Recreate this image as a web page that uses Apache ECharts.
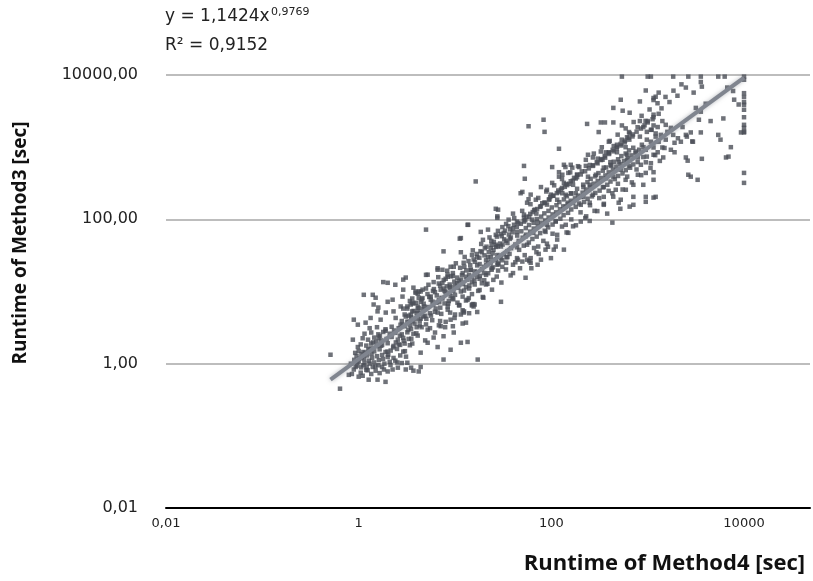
<!DOCTYPE html>
<html>
<head>
<meta charset="utf-8">
<script src="https://cdn.jsdelivr.net/npm/echarts@6/dist/echarts.min.js"></script>
<style>
html, body { margin: 0; padding: 0; background: #fff; }
#chart { width: 813px; height: 581px; }
</style>
</head>
<body>
<div id="chart"></div>
<script>
// runtimes, pairs of [Method4 sec, Method3 sec]
var lowCluster = [
  [0.51,1.33],[0.64,0.45],[0.79,0.7],[0.87,2.15],[0.83,1.0],[0.98,1.7],[0.89,4.07],[0.98,3.47],[1.18,3.7],[1.33,4.3],[1.69,4.07],
  [1.0,0.66],[1.27,0.6],[1.57,0.6],[1.9,0.56],[0.89,0.83],[2.25,0.83],[2.55,0.88],[3.08,0.83],[3.5,0.88],[4.2,0.78],
  [0.85,0.72],[0.93,0.9],[1.05,0.75],[1.12,0.95],[1.2,0.82],[1.35,0.72],[1.4,0.9],[1.5,0.8],[1.65,0.74],[1.75,0.9],[2.0,0.78],[1.1,0.68],[0.97,1.05],[1.3,1.0],[1.6,0.95],
  [1.0,1.08],[1.15,1.02],[1.28,1.1],[1.45,1.04],[1.62,1.12],[1.85,1.0],[2.1,1.06],[2.4,1.1],[2.8,1.02],
  [0.95,1.28],[1.08,1.22],[1.22,1.3],[1.38,1.2],[1.55,1.27],[1.75,1.32],[2.0,1.24],[2.3,1.2],[2.7,1.3],[3.1,1.25],
  [1.0,1.5],[1.12,1.45],[1.3,1.55],[1.45,1.48],[1.65,1.58],[1.9,1.45],[2.15,1.52],[2.5,1.6],[2.9,1.47],
  [1.05,1.85],[1.2,1.78],[1.35,1.9],[1.55,1.75],[1.75,1.82],[2.0,1.92],[2.3,1.76],[2.6,1.85],[3.0,1.9],[3.4,1.8],
  [1.1,2.25],[1.25,2.15],[1.45,2.3],[1.7,2.1],[1.95,2.2],[2.2,2.35],[2.55,2.15],[2.9,2.28],[3.3,2.2],
  [1.15,2.6],[1.35,2.7],[1.6,2.55],[1.8,2.75],[2.1,2.6],[2.4,2.68],[2.8,2.55],[3.2,2.72],[3.7,2.6],
  [1.3,3.1],[1.55,3.2],[1.9,3.0],[2.2,3.25],[2.6,3.1],[3.0,3.3],[3.5,3.05],[4.0,3.2],
  [1.8,13.5],[2.4,12.4],[2.9,14.6],[2.0,13.2],[1.13,9],[1.4,9],[1.5,8.2],[2.85,8.5],[2.9,10.6],[4.2,10],[3.7,11.3],
  [2.0,7.2],[2.25,7.7],[2.73,6.2],[3.47,6.6],[4.4,7.2],[1.43,6.6],[1.6,6],[1.57,5.3],[1.91,5.1],[2.3,5.3],[2.42,4.3],[3.08,4.5],[3.6,5.3],[4.1,4.5],
  [4.4,1.42],[3.7,0.8],[4.4,0.9],[3.2,1.03],
  [3.2,5.8],[3.5,4.4],[3.7,6.8],[4,5],[4.3,3.9],[4.6,5.8],[4.9,4.6],[3.0,4.8],[3.4,3.4],[3.9,4.2],[4.5,3.2],[2.9,5.8],[3.6,8],[4.1,9.3],[3.3,3.8],[2.8,3.9],[3.8,3.6],[4.4,4.2],
  [3.08,15.6],[3.9,10],[4.2,8.2],[3.6,7],[3.2,6.2],[3.47,4.77],[3.2,3.8],[2.85,3.47],
  [1.02,1.18],[1.17,1.42],[1.34,1.63],[1.52,2.02],[1.66,2.42],[1.9,2.86],[2.03,1.33],[2.28,1.68],[2.43,1.97],[2.68,2.44],[2.93,2.08],[1.07,1.36],[1.26,1.58],
  [1.41,1.97],[1.61,2.27],[1.79,1.16],[1.99,1.47],[1.14,1.16],[1.36,1.37],[1.71,1.77],[2.33,2.88],[2.72,3.46],[3.28,2.93],[3.62,3.86],[1.21,0.89],[1.49,0.91],
  [1.83,0.83],[2.14,0.96],[2.52,1.04],[0.9,1.13],[0.92,1.41],[0.96,0.94],[1.06,0.89],[1.24,0.81],[2.69,1.82],[3.02,1.49],[3.52,2.22],[3.97,2.63],[4.3,3.38]
];
var midBand = [
  [5.2,17.1],[6.6,20],[8.4,16],[9.7,22],[12.3,25],[14.6,20],[11.5,14.6],[9,11.6],[7.1,10.6],[4.4,10],[5.6,7.7],[4.1,6.2],[4.7,4.5],[6.6,5.1],[8.4,6.2],[10.6,7],[13.5,7.7],[15.6,6.2],[12.3,5.1],[9,4.07],[7.1,3.3],[5.2,2.96],[6,2.3],[7.6,2.4],[9.7,2.7],[11.5,1.95],[13.5,2.0],[9,1.56],[6.6,1.7],[5.2,1.95],[7.6,1.14],[17.2,1.14],
  [5,72],[13.7,84],[18.5,67],[19.5,52],[11.2,54],[7.6,36],[11.5,35],[15,32],[17,30],[23.5,40],[26.5,44.5],[27.5,32],[5,17],[6.6,21],[7.4,20],[9,22],[4.6,10.6],
  [21,27],[23.5,26],[26.5,28],[28,25],
  [12.5,22],[14.5,20],[17,23],[20,18],[24,21],[28,19.5],[31,22],
  [9.5,16.5],[11,14],[13,16],[15,13.5],[18,15],[21,12.5],[25,14.5],
  [7.6,11],[8.8,9.5],[10,12],[11.5,10],[13,11.5],[15,9.2],[18,10.5],
  [5.6,8.5],[6.4,7],[7.4,8],[8.5,6.8],[9.6,7.8],[11,6.5],[13,7.5],[16,6.6],
  [4.1,5.4],[4.8,6.2],[5.5,5],[6.3,5.8],[7.2,4.9],[8.4,5.6],[10,4.8],[12,5.5],[14,5],
  [5,3.5],[5.8,4],[6.8,3.4],[8,3.8],[9.5,3.3],[12,3.6],
  [15,6.6],[19.7,8.2],[17,5.2],[11.5,4.8],[13,3.7],[30,7.2],[15,6.4],[21,17],[24,20],
  [16.4,335],[13.5,84],[11.5,55],[28,136],[27.5,110],
  [5.4,8.4],[6.2,9.8],[7,12],[5,11],[6,13.5],[8,15],[9.5,18],[10.5,13],[7.8,10.2],[12,18],[14,17],[16,19],[18,24],[20,22],[22,30],
  [10,9],[12,8.5],[14,11],[16,12.5],[19,13],[17,16],[8.8,12.5],[6.8,7.6],[9,8.6],
  [3.31,4.62],[3.72,5.38],[4.18,5.93],[4.73,6.77],[5.21,6.08],[5.83,7.24],[6.47,8.83],[7.23,8.17],[7.96,9.84],[8.84,11.1],[9.62,10.2],[5.04,4.18],[5.63,4.63],
  [6.18,5.24],[7.03,5.97],[7.78,6.84],[8.62,7.37],[9.41,8.05],[4.52,7.76],[5.18,9.23],[6.04,10.8],[6.78,12.9],[7.63,14.4],[8.37,17.1],[3.92,6.98],[4.38,5.03],
  [5.94,6.58],[6.87,7.12],[9.83,13.7],[8.21,11.8],
  [10.5,15.6],[11.8,16.9],[13.1,19.6],[14.4,23.2],[16.1,25.8],[17.9,29.3],[20.2,31.7],[22.4,35.2],[25.1,37.8],[27.8,42.3],[31.2,44.7],[33.8,50.4],[37.1,53.6],
  [10.8,11.3],[12.1,12.7],[13.4,14.6],[15.1,15.7],[16.9,18.6],[19.1,20.4],[21.1,23.1],[23.4,24.7],[26.1,27.2],[28.8,31.1],[32.2,32.8],[34.9,36.2],[38.2,39.8],
  [12.4,10.3],[14.1,12.1],[15.9,14.1],[18.1,16.4],[20.1,14.3],[22.1,17.9],[24.8,21.6],[28.2,23.9],[30.9,27.1],[34.2,29.8],[36.8,33.2],
  [15.6,27.8],[18.4,36.2],[21.2,41.8],[23.8,50.3],[27.2,57.6],[29.8,62.4],[33.1,69.7],[35.8,80.4]
];
var upperBand = [
  [40,18],[54,15.5],[62,21],[72,23.5],[70,35],[90,46],[106,38],[56,27.6],[45,27.6],
  [40,120],[44,93],[52,116],[70,120],
  [58,1950],[83,2400],[85,1630],[120,950],[52,550],[53,365],[102,530],[120,450],[135,570],[165,520],
  [26.5,140],[27.5,105],[31,78],[40,75],[52,105],[58,190],[48,230],
  [430,90],[140,530],[185,415],[120,390],
  [50,240],[61,220],[78,280],[90,257],[102,320],[99,220],[130,230],[159,230],[185,265],
  [56,170],[69,187],[90,160],[115,187],[141,150],[168,170],[202,205],
  [36,99],[41,84],[52,93],[63,99],[72,90],[90,84],[111,93],[141,84],[168,80],[202,93],
  [22,72],[26.5,61],[32,65],[38,56],[44,67],[54,58],[65,65],[87,67],[115,61],[150,65],
  [24,44.5],[30,42],[35,47],[44,41],[56,44.5],[73,42],[87,38],[111,42],[135,38],
  [19,35],[23.5,30],[30,29],[35,30],[44,29],[61,29],[78,27.6],[99,29],
  [22,25],[27.5,23.5],[34,25],[40,23.5],[50,26],[61,25],
  [230,110],[300,130],[380,120],[520,140],[650,150],[250,95],
  [235,2100],[326,2200],[360,2200],[440,2200],[540,2000],[440,3500],[550,3200],[650,3000],[310,1620],[640,1620],[830,2300],[1000,2300],[1150,2000],[525,4540],[830,4300],[1150,4800],[830,1400],[610,1370],
  [395,1190],[480,1080],[590,1000],[326,870],[395,850],[480,850],[610,785],[750,870],[870,1080],[980,1270],[1210,1550],[1080,1740],
  [240,785],[270,720],[340,670],[410,620],[500,620],[610,670],[790,720],[980,740],[1270,850],
  [159,570],[195,530],[228,550],[270,550],[350,520],[420,550],[525,486],[640,550],[850,570],[1080,600],
  [130,415],[150,440],[185,415],[240,390],[290,415],[367,370],[440,390],[590,353],[790,415],[955,440],[1150,450],
  [135,320],[168,301],[215,280],[250,301],[350,280],[466,257],[593,257],[710,301],[900,301],[1150,353],
  [141,219],[179,230],[215,205],[270,219],[350,205],[430,230],[525,187],[710,205],[955,205],[1210,205],
  [150,170],[202,159],[250,170],[350,159],[500,170],[710,159],[955,175],[1150,200],
  [42.3,44.8],[45.8,50.3],[50.4,55.7],[54.8,61.3],[60.3,67.6],[65.7,74.4],[72.4,79.6],[78.6,88.3],[86.4,96.5],[93.7,106],[103,117],[112,125],[123,138],
  [133,151],[147,163],[159,181],[176,195],[189,213],[44.2,59.6],[48.8,68.3],[54.3,75.6],[58.7,83.4],[65.4,89.6],[70.6,101],[78.4,109],[84.6,121],[93.4,131],
  [101,146],[113,157],[121,173],[135,189],[145,209],[161,227],[46.3,37.8],[51.7,43.2],[58.4,47.7],[63.6,53.4],[70.4,57.6],[76.6,64.4],[85.4,69.6],[92.6,77.4],
  [103,84.6],[111,94.5],[124,102],[134,114],[149,123],[161,137],[179,149],[194,166],[60.4,119],[67.6,136],[76.4,149],[84.7,171],[95.6,189],[105,212],
  [119,238],[129,272],[146,298],[159,337],[179,368],
  [211,234],[229,259],[253,281],[275,312],[303,338],[328,374],[364,406],[394,448],[436,486],[473,537],[522,583],[568,643],[627,697],[680,769],[751,835],
  [816,922],[904,1000],[214,302],[237,328],[256,364],[285,394],[308,437],[342,472],[370,523],[411,567],[445,628],[493,679],[533,752],[591,816],[640,903],
  [708,981],[219,174],[238,193],[264,208],[286,232],[317,250],[343,278],[381,301],[411,334],[456,361],[493,399],[548,432],[592,480],[657,519],[709,576],
  [787,622],[302,597],[327,663],[362,716],[397,805],[443,876],[477,966],[533,1055],[577,1166],[645,1272],[696,1408]
];
// outer parts of the band, above and below the fit
var bandEdges = [
  [3.4,7.4],[3.9,9.6],[4.6,8.1],[5.3,12.4],[5.9,10.2],[6.7,15.8],[7.4,13.1],[8.3,19.4],[9.1,16.2],[10.2,24.6],[11.3,21.3],[12.6,30.1],[13.8,26.4],
  [15.3,37.2],[16.8,33.1],[18.7,45.6],[20.4,39.8],[22.8,56.1],[25.3,48.7],[27.9,69.2],[30.6,58.4],[33.9,86.3],[37.4,72.5],[41.2,104],[45.3,88.6],
  [49.8,131],[55.1,109],[60.7,162],[66.3,134],[73.1,198],[80.4,167],[88.6,243],[97.3,204],[107,296],[118,251],[129,362],[142,307],[157,448],[172,376],
  [189,545],[207,462],[228,668],[251,566],[276,815],[303,693],[334,998],[367,847],[404,1220],[444,1036],[488,1490],[537,1270],[591,1820],[650,1550],
  [715,2230],[786,1890],[865,2720],[950,2310],[1046,3330],[1150,2820],[1265,4060],[1392,3450],[1531,4970],[1684,4220],[1852,6070],[2037,5160],[2241,7420],
  [3.6,1.9],[4.1,2.45],[4.9,2.1],[5.5,3.1],[6.2,2.7],[7.0,3.9],[7.9,3.2],[8.9,5.1],[9.9,4.3],[11.1,6.4],[12.4,5.3],[13.9,8.1],[15.5,6.7],[17.4,10.2],
  [19.4,8.4],[21.7,12.8],[24.2,10.6],[27.1,16.1],[30.3,13.3],[33.8,20.2],[37.8,16.7],[42.3,25.4],[47.3,21.0],[52.9,31.9],[59.1,26.4],[66.1,40.1],
  [73.9,33.2],[82.6,50.3],[92.3,41.7],[103,63.2],[115,52.4],[129,79.4],[144,65.8],[161,99.8],[180,82.7],[201,125],[225,104],[252,157],[281,131],
  [314,197],[351,164],[393,248],[439,206],[491,311],[549,259],[613,391],[685,325],[766,491],[856,409],[957,617],[1070,514],[1196,775],[1337,645],[1494,974],
  [24.6,33.8],[29.4,46.2],[36.2,61.5],[43.8,78.3],[53.6,97.2],[64.1,126],[77.8,152],[94.2,188],[114,231],[138,282],[167,344],[202,419],[245,508],
  [296,617],[358,752],[433,918],[524,1110],[634,1350],[767,1640],[928,2010],[1124,2440],
  [26.8,41.5],[32.4,52.8],[39.6,66.1],[48.2,86.7],[58.9,108],[71.2,139],[86.3,169],[104,212],[126,259],[153,311],[185,384],[224,463],[271,562],
  [328,684],[397,833],[481,1010],[582,1230],[704,1500],[852,1810]
];
var highBand = [
  [900,1900],[1000,2200],[1150,2600],[1300,2900],[980,1630],[1100,1740],[1270,1900],[1420,2300],[1540,2040],[1740,1850],
  [1210,1400],[1370,1480],[1600,1630],[1840,1480],[2060,1330],[1080,1190],[1300,1190],[1540,1270],[1900,1150],[2210,1190],
  [2550,1400],[2950,1190],[955,920],[1150,990],[1420,990],[1740,920],[900,730],[1150,785],[1450,720],[1900,850],[2490,720],
  [540,9500],[1000,9500],[1080,9500],[1840,9500],[2640,9500],[3560,9500],[5400,9500],[6300,9500],
  [3560,8000],[3650,6900],[2490,6700],[3000,5700],[1300,5700],[1210,5000],[955,6100],[1150,4500],
  [6700,6700],[7900,4550],[8800,3900],[3160,3500],[4000,4000],[3560,3100],[3400,2400],[4500,2300],[6100,2500],
  [9300,1600],[7300,1000],[5700,1270],[3560,1600],[2640,415],[3300,353],[6500,720],[5400,1480],[2490,1480],[2300,1900],
  [6900,740],[3650,690],[2600,650],[7700,6000],[2900,1200],[2800,390],[2800,1600]
];
// Method3 runtimes of the runs where Method4 hit 10000 s
var timeoutM3 = [9500, 8600, 5600, 4950, 4200, 3870, 3300, 2600, 2040, 1850, 1630, 1600, 440, 320];
var timeoutM4 = 10000;

// power trendline, drawn between its two ends
var trendX = [0.51, 10000];
var trendY = [0.6, 9200];

var xTicks = [0.01, 1, 100, 10000];
var xTickLabels = ['0,01', '1', '100', '10000'];
var yTicks = [0.01, 1, 100, 10000];
var yTickLabels = ['0,01', '1,00', '100,00', '10000,00'];

var points = lowCluster.concat(midBand, upperBand, bandEdges, highBand);
timeoutM3.forEach(function (v) { points.push([timeoutM4, v]); });

function tickLabel(ticks, labels) {
  return function (v) {
    for (var i = 0; i < ticks.length; i++) {
      if (Math.abs(Math.log10(v) - Math.log10(ticks[i])) < 1e-6) return labels[i];
    }
    return '';
  };
}

var chart = echarts.init(document.getElementById('chart'));
chart.setOption({
  animation: false,
  grid: { left: 166, right: 3, top: 75, bottom: 73 },
  xAxis: {
    type: 'log',
    min: 0.01,
    max: 48400,
    axisLine: { show: true, lineStyle: { color: '#000', width: 2 } },
    axisTick: { show: false },
    splitLine: { show: false },
    axisLabel: {
      formatter: tickLabel(xTicks, xTickLabels),
      color: '#222',
      fontFamily: 'DejaVu Sans',
      fontSize: 13,
      margin: 9,
      showMinLabel: true,
      showMaxLabel: false
    }
  },
  yAxis: {
    type: 'log',
    min: 0.01,
    max: 10000,
    axisLine: { show: false },
    axisTick: { show: false },
    splitLine: {
      show: true,
      // only every second decade gets a visible line
      lineStyle: { color: ['#bdbdbd', 'rgba(0,0,0,0)'], width: 2 }
    },
    axisLabel: {
      formatter: tickLabel(yTicks, yTickLabels),
      color: '#222',
      fontFamily: 'DejaVu Sans',
      fontSize: 16,
      margin: 28
    }
  },
  graphic: [
    {
      type: 'text', left: 165, top: 8,
      style: { text: 'y = 1,1424x', fill: '#222', font: '17px "DejaVu Sans"' }
    },
    {
      type: 'text', left: 271, top: 7,
      style: { text: '0,9769', fill: '#222', font: '11px "DejaVu Sans"' }
    },
    {
      type: 'text', left: 165, top: 37,
      style: { text: 'R² = 0,9152', fill: '#222', font: '17px "DejaVu Sans"' }
    },
    {
      type: 'text', x: 21, y: 243, rotation: Math.PI / 2,
      style: {
        text: 'Runtime of Method3 [sec]', fill: '#111',
        font: 'bold 19px "Open Sans"', align: 'center', verticalAlign: 'middle'
      }
    },
    {
      type: 'text', right: 8, top: 553,
      style: { text: 'Runtime of Method4 [sec]', fill: '#111', font: 'bold 22px "Open Sans"' }
    }
  ],
  series: [
    {
      type: 'scatter',
      data: points,
      symbol: 'rect',
      symbolSize: 4.5,
      itemStyle: { color: '#4b4f57' }
    },
    {
      type: 'line',
      data: trendX.map(function (x, i) { return [x, trendY[i]]; }),
      symbol: 'none',
      z: 3,
      lineStyle: { color: '#80858f', width: 4, shadowBlur: 4, shadowColor: 'rgba(110,115,125,0.5)' }
    }
  ]
});
</script>
</body>
</html>
